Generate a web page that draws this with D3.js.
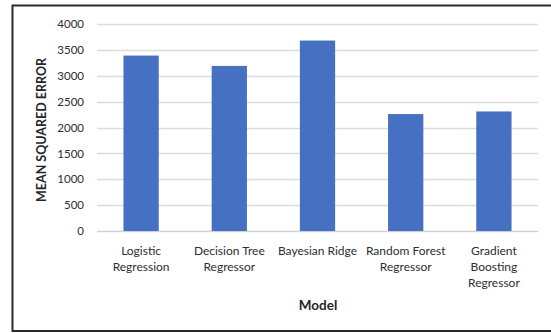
<!DOCTYPE html>
<html>
<head>
<meta charset="utf-8">
<script src="https://cdn.jsdelivr.net/npm/d3@7"></script>
<style>
  html, body { margin: 0; padding: 0; background: #fff; }
  svg { display: block; }
  text { font-family: Lato, "Open Sans", sans-serif; }
</style>
</head>
<body>
<div id="chart"></div>
<script>
// Model names (each entry split into label lines) and their mean squared error
const models = [
  ["Logistic", "Regression"],
  ["Decision Tree", "Regressor"],
  ["Bayesian Ridge"],
  ["Random Forest", "Regressor"],
  ["Gradient", "Boosting", "Regressor"]
];
const mse = [3390, 3190, 3680, 2260, 2310];
const yTicks = [0, 500, 1000, 1500, 2000, 2500, 3000, 3500, 4000];

const W = 551, H = 333;
const margin = { left: 97, right: 13, top: 24, bottom: 102 };

const svg = d3.select("#chart").append("svg")
  .attr("width", W).attr("height", H);

// Chart area frame (left, top and bottom edges)
svg.append("path")
  .attr("d", `M${W},5.5 H12.5 V331 H${W}`)
  .attr("fill", "none")
  .attr("stroke", "#2a2a2a")
  .attr("stroke-width", 2);

const keys = models.map(d => d.join(" "));
const x = d3.scaleBand()
  .domain(keys)
  .range([margin.left, W - margin.right])
  .paddingInner(0.6)
  .paddingOuter(0.3);

const y = d3.scaleLinear()
  .domain([0, 4000])
  .range([H - margin.bottom, margin.top]);

// Horizontal gridlines
svg.append("g")
  .selectAll("line")
  .data(yTicks)
  .join("line")
  .attr("x1", margin.left).attr("x2", W - margin.right)
  .attr("y1", d => Math.round(y(d)) + 0.5).attr("y2", d => Math.round(y(d)) + 0.5)
  .attr("stroke", d => d === 0 ? "#d0d0d0" : "#dcdcdc")
  .attr("stroke-width", 1.5);

// Y axis tick labels
const yAxis = d3.axisLeft(y).tickValues(yTicks).tickSize(0).tickPadding(0).tickFormat(d3.format("d"));
const gy = svg.append("g")
  .attr("transform", `translate(84,0)`)
  .call(yAxis);
gy.select(".domain").remove();
gy.selectAll("text")
  .attr("font-family", "Lato, sans-serif")
  .attr("font-size", 11.5)
  .attr("fill", "#2e2e2e");

// Bars
svg.append("g")
  .selectAll("rect")
  .data(mse)
  .join("rect")
  .attr("x", (d, i) => x(keys[i]))
  .attr("width", x.bandwidth())
  .attr("y", d => y(d))
  .attr("height", d => y(0) - y(d))
  .attr("fill", "#4670c2");

// Category labels
const labels = svg.append("g")
  .selectAll("text")
  .data(models)
  .join("text")
  .attr("x", (d, i) => x(keys[i]) + x.bandwidth() / 2)
  .attr("y", 255)
  .attr("text-anchor", "middle")
  .attr("font-size", 12)
  .attr("fill", "#2e2e2e");
labels.selectAll("tspan")
  .data(d => d)
  .join("tspan")
  .attr("x", function() { return this.parentNode.getAttribute("x"); })
  .attr("dy", (d, i) => i === 0 ? 0 : 16)
  .text(d => d);

// Axis titles
svg.append("text")
  .attr("x", 318).attr("y", 310)
  .attr("text-anchor", "middle")
  .attr("font-size", 13.5)
  .attr("font-weight", "bold")
  .attr("fill", "#262626")
  .text("Model");

svg.append("text")
  .attr("transform", "translate(46,130) rotate(-90)")
  .attr("text-anchor", "middle")
  .attr("font-size", 12.5)
  .attr("font-weight", "bold")
  .attr("fill", "#262626")
  .text("MEAN SQUARED ERROR");
</script>
</body>
</html>
